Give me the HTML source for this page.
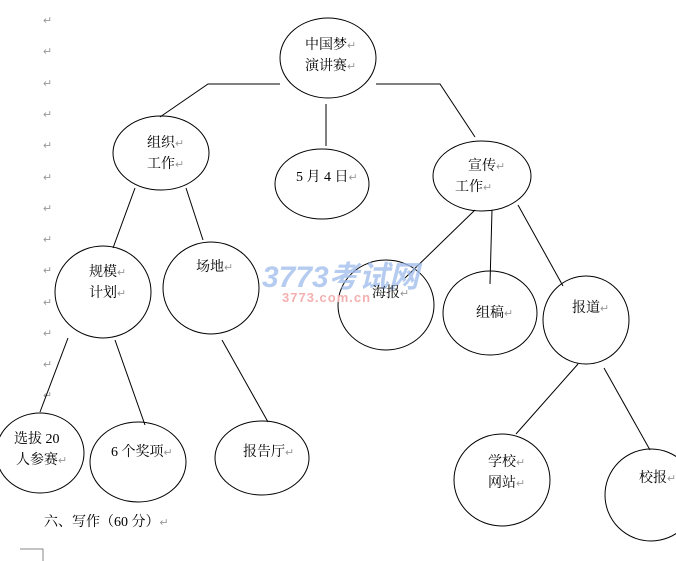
<!DOCTYPE html>
<html><head><meta charset="utf-8"><style>
html,body{margin:0;padding:0;background:#fff;width:676px;height:561px;overflow:hidden}
text{font-family:"Liberation Serif","Noto Serif CJK SC",serif;font-size:14px;fill:#000}
.m{fill:#999;font-size:11px}
</style></head><body>
<svg width="676" height="561" viewBox="0 0 676 561" xmlns="http://www.w3.org/2000/svg">
<g class="m">
<text class="m" x="43" y="24">↵</text><text class="m" x="43" y="55">↵</text><text class="m" x="43" y="87">↵</text>
<text class="m" x="43" y="118">↵</text><text class="m" x="43" y="149">↵</text><text class="m" x="43" y="181">↵</text>
<text class="m" x="43" y="212">↵</text><text class="m" x="43" y="243">↵</text><text class="m" x="43" y="274">↵</text>
<text class="m" x="43" y="306">↵</text><text class="m" x="43" y="337">↵</text><text class="m" x="43" y="368">↵</text>
<text class="m" x="43" y="399">↵</text>
</g>
<g fill="none" stroke="#000" stroke-width="1">
<ellipse cx="328" cy="58" rx="48" ry="40"/>
<ellipse cx="161" cy="153" rx="48" ry="37"/>
<ellipse cx="322" cy="184" rx="47" ry="35"/>
<ellipse cx="482" cy="176" rx="49" ry="35"/>
<ellipse cx="103" cy="292" rx="48" ry="46"/>
<ellipse cx="211" cy="288" rx="48" ry="46"/>
<ellipse cx="386" cy="305" rx="48" ry="45"/>
<ellipse cx="490" cy="313" rx="47" ry="42"/>
<ellipse cx="586" cy="320" rx="43" ry="44"/>
<ellipse cx="40" cy="453" rx="44" ry="40"/>
<ellipse cx="138" cy="462" rx="48" ry="40"/>
<ellipse cx="262" cy="458" rx="47" ry="37"/>
<ellipse cx="502" cy="480" rx="48" ry="46"/>
<ellipse cx="651" cy="495" rx="46" ry="46"/>
<polyline points="280,84 208,84 160,117"/>
<polyline points="376,84 440,84 475,137"/>
<line x1="326" y1="104" x2="326" y2="146"/>
<line x1="135" y1="188" x2="113" y2="248"/>
<line x1="186" y1="188" x2="203" y2="240"/>
<line x1="475" y1="210" x2="405" y2="278"/>
<line x1="492" y1="210" x2="490" y2="284"/>
<line x1="518" y1="205" x2="563" y2="286"/>
<line x1="68" y1="338" x2="40" y2="412"/>
<line x1="115" y1="340" x2="145" y2="425"/>
<line x1="222" y1="340" x2="268" y2="422"/>
<line x1="578" y1="364" x2="516" y2="434"/>
<line x1="604" y1="368" x2="650" y2="450"/>
<polyline points="20,549 43,549 43,561" stroke="#888"/>
</g>
<text x="305" y="49">中国梦<tspan class="m">↵</tspan></text>
<text x="305" y="70">演讲赛<tspan class="m">↵</tspan></text>
<text x="147" y="147">组织<tspan class="m">↵</tspan></text>
<text x="147" y="168">工作<tspan class="m">↵</tspan></text>
<text x="296" y="181">5 月 4 日<tspan class="m">↵</tspan></text>
<text x="468" y="170">宣传<tspan class="m">↵</tspan></text>
<text x="455" y="191">工作<tspan class="m">↵</tspan></text>
<text x="89" y="276">规模<tspan class="m">↵</tspan></text>
<text x="89" y="297">计划<tspan class="m">↵</tspan></text>
<text x="196" y="271">场地<tspan class="m">↵</tspan></text>
<text x="262" y="287" style="font-family:'Liberation Sans','Noto Sans CJK SC',sans-serif;font-size:30px;font-weight:bold;font-style:italic;fill:#9dbbec;opacity:.75">3773考试网</text>
<text x="282" y="302" style="font-family:'Liberation Sans',sans-serif;font-size:13px;font-weight:bold;fill:#f4b0b0;letter-spacing:1px">3773.com.cn</text>
<text x="372" y="297">海报<tspan class="m">↵</tspan></text>
<text x="476" y="317">组稿<tspan class="m">↵</tspan></text>
<text x="572" y="312">报道<tspan class="m">↵</tspan></text>
<text x="14" y="443">选拔 20</text>
<text x="16" y="464">人参赛<tspan class="m">↵</tspan></text>
<text x="111" y="456">6 个奖项<tspan class="m">↵</tspan></text>
<text x="243" y="456">报告厅<tspan class="m">↵</tspan></text>
<text x="488" y="466">学校<tspan class="m">↵</tspan></text>
<text x="488" y="487">网站<tspan class="m">↵</tspan></text>
<text x="639" y="482">校报<tspan class="m">↵</tspan></text>
<text x="44" y="526">六、写作（60 分）<tspan class="m">↵</tspan></text>
</svg>
</body></html>
